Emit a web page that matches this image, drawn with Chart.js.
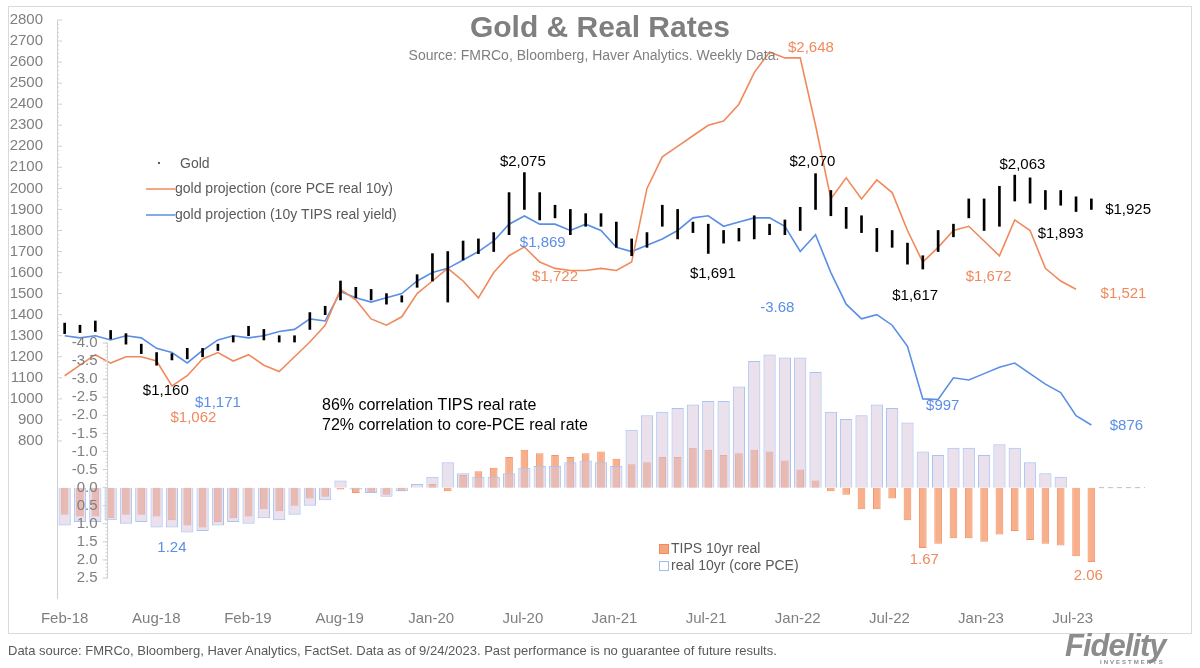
<!DOCTYPE html>
<html><head><meta charset="utf-8">
<script src="https://cdn.jsdelivr.net/npm/chart.js@4"></script>
<style>
body{margin:0;background:#fff;font-family:"Liberation Sans",Arial,sans-serif;}
#wrap{position:relative;width:1200px;height:668px;}
#box{position:absolute;left:8px;top:6px;width:1182px;height:626px;border:1px solid #d9d9d9;}
canvas{position:absolute;left:0;top:0;}
.t{position:absolute;white-space:nowrap;}
</style></head><body>
<div id="wrap">
<div id="box"></div>
<canvas id="c" width="1200" height="668"></canvas>
<div class="t" style="left:0;width:1200px;text-align:center;top:10px;font-size:30px;font-weight:bold;color:#7f7f7f;">Gold &amp; Real Rates</div>
<div class="t" style="left:0;width:1188px;text-align:center;top:47px;font-size:14px;color:#7f7f7f;">Source: FMRCo, Bloomberg, Haver Analytics. Weekly Data.</div>
<div class="t" style="left:8px;top:643px;font-size:13px;color:#595959;font-family:'Liberation Sans Narrow','Liberation Sans',sans-serif;">Data source: FMRCo, Bloomberg, Haver Analytics, FactSet. Data as of 9/24/2023. Past performance is no guarantee of future results.</div>
<div class="t" style="left:1065px;top:628px;font-size:31px;font-weight:bold;font-style:italic;color:#8c8c8c;letter-spacing:-1px;">Fidelity</div>
<div class="t" style="left:1100px;top:659px;font-size:6px;font-weight:bold;color:#8c8c8c;letter-spacing:2px;">INVESTMENTS</div>
</div>
<script>
const xLabels=["Feb-18","Aug-18","Feb-19","Aug-19","Jan-20","Jul-20","Jan-21","Jul-21","Jan-22","Jul-22","Jan-23","Jul-23"];
// monthly, Feb-2018 .. Sep-2023
const goldLow=[1310,1315,1320,1285,1260,1215,1160,1185,1190,1200,1230,1270,1300,1280,1270,1270,1330,1400,1470,1480,1470,1450,1460,1530,1560,1460,1660,1690,1700,1780,1900,1850,1860,1780,1820,1820,1720,1680,1720,1820,1760,1790,1691,1740,1750,1760,1780,1780,1800,1900,1870,1810,1790,1700,1720,1640,1617,1700,1770,1860,1800,1820,1940,1930,1900,1920,1890,1900];
const goldHigh=[1360,1350,1370,1325,1310,1260,1220,1215,1240,1240,1260,1300,1345,1330,1300,1300,1410,1440,1560,1530,1520,1500,1490,1590,1690,1700,1750,1760,1790,1980,2075,1980,1920,1900,1880,1880,1840,1760,1790,1920,1900,1840,1830,1800,1810,1870,1830,1850,1910,2070,1990,1910,1870,1810,1800,1740,1680,1800,1830,1950,1950,2010,2063,2050,1990,1990,1960,1950];
const projPCE=[1110,1160,1210,1170,1200,1200,1180,1062,1110,1190,1220,1180,1210,1160,1130,1200,1270,1350,1520,1470,1380,1350,1390,1500,1560,1620,1560,1480,1600,1680,1722,1650,1620,1610,1610,1620,1610,1650,2000,2150,2200,2250,2300,2320,2400,2550,2648,2620,2620,2300,1950,2050,1950,2040,1980,1800,1650,1720,1800,1820,1750,1680,1850,1800,1620,1560,1521,null];
const projTIPS=[1300,1290,1300,1280,1300,1290,1240,1220,1171,1230,1280,1300,1290,1300,1320,1330,1380,1370,1510,1480,1460,1480,1500,1560,1600,1620,1660,1700,1750,1830,1869,1830,1830,1800,1830,1800,1720,1700,1730,1760,1800,1860,1870,1820,1840,1860,1860,1820,1700,1780,1600,1450,1380,1400,1350,1250,1000,997,1100,1090,1120,1150,1170,1120,1070,1030,920,876];
const rateTIPS=[0.75,0.8,0.8,0.85,0.75,0.75,0.8,0.9,1.05,1.1,0.95,0.85,0.8,0.6,0.65,0.5,0.3,0.25,0.05,0.15,0.15,0.2,0.1,0.0,-0.1,0.1,-0.35,-0.45,-0.55,-0.85,-1.05,-0.95,-0.9,-0.85,-0.95,-1.0,-0.8,-0.65,-0.7,-0.85,-0.85,-1.1,-1.05,-0.9,-0.95,-1.05,-1.0,-0.75,-0.5,-0.2,0.1,0.2,0.6,0.6,0.3,0.9,1.67,1.55,1.4,1.4,1.5,1.3,1.2,1.45,1.55,1.6,1.9,2.06];
const ratePCE=[1.05,0.95,0.95,0.9,1.0,0.95,1.1,1.1,1.24,1.2,1.05,0.95,1.0,0.85,0.9,0.75,0.5,0.35,-0.2,0.05,0.15,0.25,0.1,-0.1,-0.3,-0.7,-0.4,-0.3,-0.3,-0.4,-0.55,-0.6,-0.6,-0.7,-0.75,-0.7,-0.6,-1.6,-2.0,-2.1,-2.2,-2.3,-2.4,-2.4,-2.8,-3.5,-3.68,-3.6,-3.6,-3.2,-2.1,-1.9,-2.0,-2.3,-2.2,-1.8,-1.0,-0.9,-1.1,-1.1,-0.9,-1.2,-1.1,-0.7,-0.4,-0.3,null,null];

const ORANGE='#f08a5d', BLUE='#5b8ee6', GRAY='#7f7f7f';
const idx=goldLow.map((_,i)=>i);
const pts=a=>a.map((v,i)=>({x:i,y:v}));

const notes=[
 ["$2,075",29.9,2125,'y','#000','center'],["$2,070",48.8,2125,'y','#000','center'],["$2,063",62.5,2110,'y','#000','center'],
 ["$1,925",67.9,1900,'y','#000','left'],["$1,893",65,1783,'y','#000','center'],["$1,691",42.3,1593,'y','#000','center'],
 ["$1,617",55.5,1489,'y','#000','center'],["$1,160",6.6,1037,'y','#000','center'],
 ["$1,672",60.3,1579,'y',ORANGE,'center'],["$1,521",67.6,1498,'y',ORANGE,'left'],["$1,722",32,1579,'y',ORANGE,'center'],
 ["$2,648",48.7,2667,'y',ORANGE,'center'],["$1,062",8.4,909,'y',ORANGE,'center'],
 ["$1,869",31.2,1740,'y',BLUE,'center'],["$1,171",10,980,'y',BLUE,'center'],["$997",57.3,966,'y',BLUE,'center'],["$876",68.2,871,'y',BLUE,'left'],
 ["-3.68",46.5,-4.97,'r',BLUE,'center'],["1.24",7,1.67,'r',BLUE,'center'],["1.67",56.1,2.0,'r',ORANGE,'center'],["2.06",66.8,2.45,'r',ORANGE,'center']
];

const deco={id:'deco',
 beforeDatasetsDraw(ch){
  const c=ch.ctx,r=ch.scales.r,x=ch.scales.x;
  c.save();
  c.strokeStyle='#bfbfbf';c.setLineDash([5,4]);c.lineWidth=1;
  c.beginPath();c.moveTo(x.getPixelForValue(67.5),r.getPixelForValue(0));c.lineTo(x.getPixelForValue(70.5),r.getPixelForValue(0));c.stroke();
  c.restore();
 },
 afterDatasetsDraw(ch){
  const c=ch.ctx,r=ch.scales.r,x=ch.scales.x,y=ch.scales.y;
  c.save();
  const ax=x.getPixelForValue(2.8);
  c.strokeStyle='#d0d0d0';c.lineWidth=1;
  c.beginPath();c.moveTo(ax,r.getPixelForValue(-4));c.lineTo(ax,r.getPixelForValue(2.5));c.stroke();
  c.font='15px "Liberation Sans", Arial';c.fillStyle=GRAY;c.textAlign='right';c.textBaseline='middle';
  for(let k=0;k<=13;k++){const v=-4+k*0.5;const p=r.getPixelForValue(v);
    c.beginPath();c.moveTo(ax-5,p);c.lineTo(ax,p);c.stroke();
    let s=Math.abs(v).toFixed(1); if(v<0) s='-'+s;
    c.fillText(s,ax-10,p);}
  for(let k=0;k<=65;k++){const p=r.getPixelForValue(-4+k*0.1);c.beginPath();c.moveTo(ax-2,p);c.lineTo(ax,p);c.stroke();}
  const gx=ch.chartArea.left;
  for(let v=800;v<=2800;v+=20){const p=y.getPixelForValue(v);c.beginPath();c.moveTo(gx,p);c.lineTo(gx+(v%100?2:5),p);c.stroke();}
  c.font='15px "Liberation Sans", Arial';
  for(const [t,mx,v,ax2,col,al] of notes){
    const sc=ax2==='y'?y:r; c.fillStyle=col; c.textAlign=al;
    c.fillText(t,x.getPixelForValue(mx),sc.getPixelForValue(v));}
  c.fillStyle='#000';c.textAlign='left';c.font='16px "Liberation Sans", Arial';
  c.fillText('86% correlation TIPS real rate',322,406);
  c.fillText('72% correlation to core-PCE real rate',322,426);
  c.font='14px "Liberation Sans", Arial';c.fillStyle='#595959';
  c.fillRect(158,162,2,2);
  c.fillText('Gold',180,164);
  c.fillText('gold projection (core PCE real 10y)',175,189);
  c.fillText('gold projection (10y TIPS real yield)',175,215);
  c.lineWidth=1.5;c.strokeStyle=ORANGE;c.beginPath();c.moveTo(146,189);c.lineTo(175,189);c.stroke();
  c.strokeStyle=BLUE;c.beginPath();c.moveTo(146,215);c.lineTo(175,215);c.stroke();
  c.fillStyle='#f6a57c';c.fillRect(659,544,9,9);c.strokeStyle=ORANGE;c.lineWidth=1;c.strokeRect(659.5,544.5,9,9);
  c.strokeStyle='#9dbcf0';c.strokeRect(659.5,561.5,9,9);
  c.fillStyle='#595959';
  c.fillText('TIPS 10yr real',671,549);c.fillText('real 10yr (core PCE)',671,566);
  c.restore();
 }};

new Chart(document.getElementById('c'),{
 data:{datasets:[
  {type:'line',label:'gold projection (core PCE real 10y)',data:pts(projPCE),borderColor:ORANGE,borderWidth:1.6,pointRadius:0,yAxisID:'y',order:1},
  {type:'line',label:'gold projection (10y TIPS real yield)',data:pts(projTIPS),borderColor:BLUE,borderWidth:1.6,pointRadius:0,yAxisID:'y',order:2},
  {type:'bar',label:'Gold',data:idx.map(i=>({x:i,y:[goldLow[i],goldHigh[i]]})),backgroundColor:'#000',barThickness:2,yAxisID:'y',order:0},
  {type:'bar',label:'real 10yr (core PCE)',data:pts(ratePCE),backgroundColor:'rgba(215,195,220,0.5)',borderColor:'#a9c4f2',borderWidth:1,yAxisID:'r',grouped:false,barPercentage:0.8,categoryPercentage:1,order:4},
  {type:'bar',label:'TIPS 10yr real',data:pts(rateTIPS),backgroundColor:'rgba(244,150,100,0.75)',borderColor:'rgba(240,138,93,0.9)',borderWidth:1,yAxisID:'r',grouped:false,barPercentage:0.5,categoryPercentage:1,order:5}
 ]},
 options:{responsive:false,animation:false,
  layout:{autoPadding:false,padding:{top:20,right:55,left:0,bottom:0}},
  plugins:{legend:{display:false},tooltip:{enabled:false}},
  scales:{
   x:{type:'linear',offset:false,min:-0.5,max:70.5,grid:{display:false},border:{display:false},
      afterBuildTicks(s){s.ticks=xLabels.map((_,i)=>({value:i*5.98}));},
      ticks:{color:GRAY,font:{size:15,family:'"Liberation Sans Narrow","Liberation Sans"'},maxRotation:0,autoSkip:false,padding:4,
        callback:(v,i)=>xLabels[i]},
      afterFit(s){s.height=70;}},
   y:{position:'left',min:54,max:2800,grid:{display:false},border:{color:'#d0d0d0'},
      afterBuildTicks(s){s.ticks=[];for(let v=800;v<=2800;v+=100)s.ticks.push({value:v});},
      ticks:{color:GRAY,font:{size:15,family:'"Liberation Sans", Arial'},padding:6,callback:v=>String(v)},
      afterFit(s){s.width=57;}},
   r:{display:false,reverse:true,min:-13.49,max:2.5}
  }},
 plugins:[deco]
});
</script>
</body></html>
